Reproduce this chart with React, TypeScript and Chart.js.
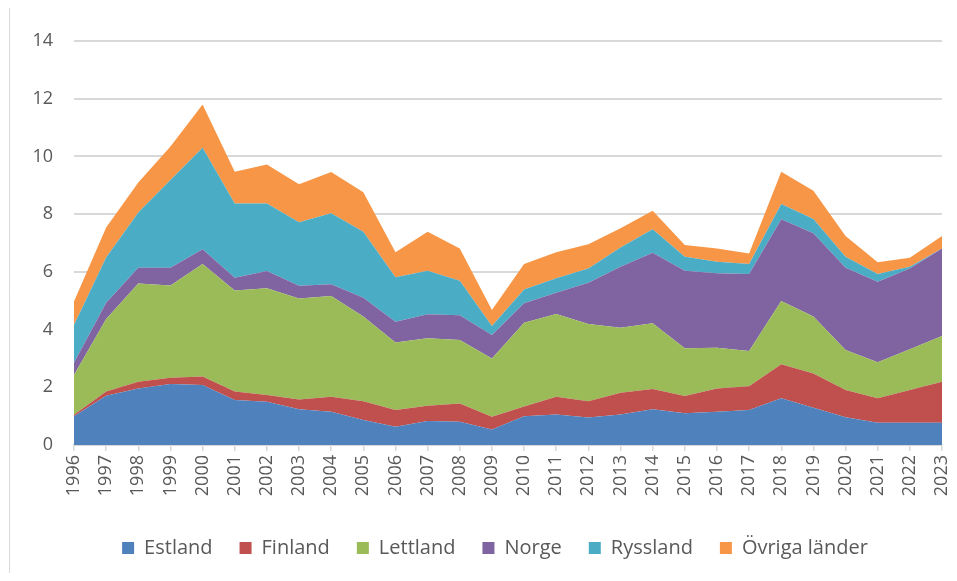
import React, { useEffect, useRef } from "react";
import { Chart, registerables } from "chart.js";

Chart.register(...registerables);

const years = [
  "1996", "1997", "1998", "1999", "2000", "2001", "2002", "2003", "2004", "2005",
  "2006", "2007", "2008", "2009", "2010", "2011", "2012", "2013", "2014", "2015",
  "2016", "2017", "2018", "2019", "2020", "2021", "2022", "2023",
];

const estland = [1.0, 1.71, 1.96, 2.11, 2.08, 1.56, 1.5, 1.24, 1.15, 0.87, 0.63, 0.83, 0.81, 0.54, 1.0, 1.06, 0.95, 1.06, 1.24, 1.1, 1.15, 1.21, 1.62, 1.29, 0.96, 0.77, 0.77, 0.77];
const finland = [0.05, 0.14, 0.23, 0.22, 0.29, 0.29, 0.23, 0.34, 0.52, 0.65, 0.58, 0.53, 0.63, 0.44, 0.33, 0.61, 0.57, 0.75, 0.7, 0.6, 0.81, 0.83, 1.18, 1.19, 0.95, 0.85, 1.14, 1.42];
const lettland = [1.38, 2.52, 3.41, 3.2, 3.9, 3.5, 3.7, 3.5, 3.49, 2.93, 2.34, 2.34, 2.2, 2.02, 2.91, 2.87, 2.67, 2.25, 2.28, 1.65, 1.41, 1.22, 2.19, 1.97, 1.38, 1.25, 1.41, 1.59];
const norge = [0.42, 0.56, 0.54, 0.61, 0.51, 0.45, 0.6, 0.44, 0.41, 0.65, 0.72, 0.83, 0.86, 0.81, 0.67, 0.74, 1.43, 2.12, 2.44, 2.69, 2.58, 2.67, 2.83, 2.89, 2.85, 2.79, 2.8, 3.03];
const ryssland = [1.31, 1.57, 1.92, 3.04, 3.52, 2.57, 2.34, 2.2, 2.46, 2.29, 1.54, 1.51, 1.19, 0.31, 0.48, 0.5, 0.5, 0.66, 0.82, 0.48, 0.4, 0.34, 0.53, 0.49, 0.38, 0.27, 0.06, 0.0];
const ovriga = [0.81, 1.04, 1.04, 1.16, 1.5, 1.1, 1.35, 1.32, 1.43, 1.37, 0.87, 1.35, 1.12, 0.56, 0.88, 0.9, 0.84, 0.67, 0.64, 0.41, 0.46, 0.37, 1.12, 0.98, 0.72, 0.4, 0.31, 0.43];

const seriesNames = ["Estland", "Finland", "Lettland", "Norge", "Ryssland", "Övriga länder"];
const seriesColors = ["#4F81BD", "#C0504D", "#9BBB59", "#8064A2", "#4BACC6", "#F79646"];
const seriesValues = [estland, finland, lettland, norge, ryssland, ovriga];

const yTickValues = [0, 2, 4, 6, 8, 10, 12, 14];

const FONT = "'Open Sans', 'DejaVu Sans', sans-serif";

const borderPlugin = {
  id: "leftBorder",
  beforeDraw(chart: any) {
    const ctx = chart.ctx;
    ctx.save();
    ctx.strokeStyle = "#d9d9d9";
    ctx.lineWidth = 1;
    ctx.beginPath();
    ctx.moveTo(1.5, 0);
    ctx.lineTo(1.5, chart.height);
    ctx.stroke();
    ctx.restore();
    if (chart.legend && !chart.legend._nudged) {
      chart.legend.left += 40;
      chart.legend._nudged = true;
    }
  },
  afterLayout(chart: any) {
    if (chart.legend) chart.legend._nudged = false;
  },
};

export default function App() {
  const canvasRef = useRef<HTMLCanvasElement | null>(null);

  useEffect(() => {
    if (!canvasRef.current) return;
    const chart = new Chart(canvasRef.current, {
      type: "line",
      data: {
        labels: years,
        datasets: seriesNames.map((name, i) => ({
          label: name,
          data: seriesValues[i],
          backgroundColor: seriesColors[i],
          borderColor: "rgba(0,0,0,0)",
          borderWidth: 0,
          pointRadius: 0,
          pointHoverRadius: 0,
          tension: 0,
          fill: i === 0 ? "origin" : "-1",
        })),
      },
      options: {
        animation: false,
        responsive: true,
        maintainAspectRatio: false,
        layout: { padding: { left: 0, right: 15, top: 33, bottom: 5 } },
        plugins: {
          tooltip: { enabled: false },
          legend: {
            position: "bottom",
            labels: {
              boxWidth: 12,
              boxHeight: 12,
              padding: 27,
              color: "#595959",
              font: { family: FONT, size: 20 },
            },
          },
        },
        scales: {
          x: {
            type: "category",
            offset: false,
            grid: {
              display: true,
              drawOnChartArea: false,
              drawTicks: true,
              tickLength: 6,
              color: "#d9d9d9",
              lineWidth: 1.5,
            },
            border: { display: true, color: "#d9d9d9", width: 1.5 },
            ticks: {
              autoSkip: false,
              maxRotation: 90,
              minRotation: 90,
              padding: 4,
              color: "#595959",
              font: { family: FONT, size: 18 },
            },
            afterFit(scale: any) {
              scale.height = 66;
              scale.paddingLeft = 0;
              scale.paddingRight = 0;
            },
          },
          y: {
            stacked: true,
            min: 0,
            max: 14,
            afterBuildTicks(scale: any) {
              scale.ticks = yTickValues.map((v) => ({ value: v }));
            },
            grid: { color: "#d9d9d9", drawTicks: false, lineWidth: 2 },
            border: { display: false },
            ticks: {
              padding: 21,
              color: "#595959",
              font: { family: FONT, size: 18 },
            },
            afterFit(scale: any) {
              scale.width = 66;
            },
          },
        },
      },
      plugins: [borderPlugin],
    });
    return () => chart.destroy();
  }, []);

  return (
    <div style={{ width: 949, height: 565, position: "relative" }}>
      <canvas ref={canvasRef} />
    </div>
  );
}
